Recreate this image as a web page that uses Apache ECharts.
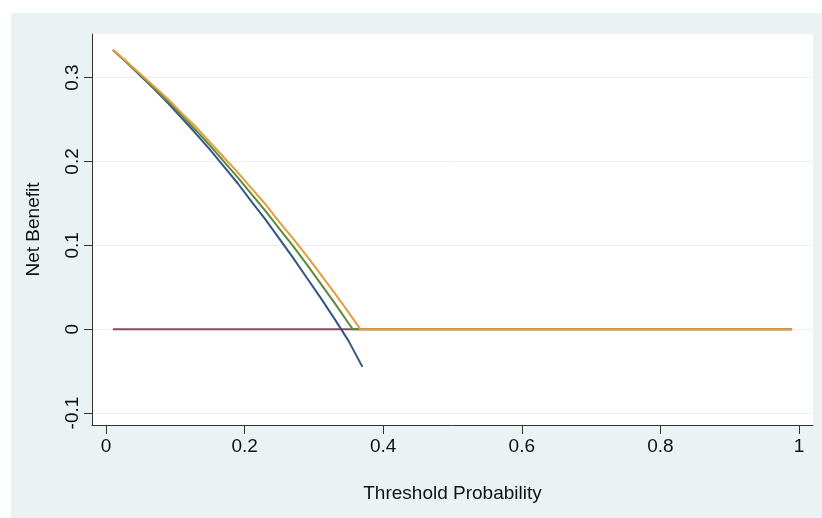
<!DOCTYPE html>
<html>
<head>
<meta charset="utf-8">
<script src="https://cdn.jsdelivr.net/npm/echarts@6/dist/echarts.min.js"></script>
<style>
html,body{margin:0;padding:0;background:#ffffff;}
#chart{width:822px;height:518px;}
</style>
</head>
<body>
<div id="chart"></div>
<script>
// ---- data ----
const xTicks = [0, 0.2, 0.4, 0.6, 0.8, 1];
const yTicks = [-0.1, 0, 0.1, 0.2, 0.3];

const blueX = [0.01,0.03,0.05,0.07,0.09,0.11,0.13,0.15,0.17,0.19,0.21,0.23,0.25,0.27,0.29,0.31,0.33,0.35,0.37];
const blueY = [0.333,0.318,0.302,0.286,0.269,0.251,0.233,0.214,0.194,0.174,0.152,0.131,0.108,0.085,0.061,0.037,0.012,-0.014,-0.045];

const greenX = [0.01,0.03,0.05,0.07,0.09,0.11,0.13,0.15,0.17,0.19,0.21,0.23,0.25,0.27,0.29,0.31,0.33,0.35,0.356,0.99];
const greenY = [0.333,0.318,0.303,0.287,0.271,0.254,0.237,0.219,0.200,0.181,0.161,0.141,0.120,0.099,0.077,0.054,0.031,0.007,0,0];

const orangeX = [0.01,0.03,0.05,0.07,0.09,0.11,0.13,0.15,0.17,0.19,0.21,0.23,0.25,0.27,0.29,0.31,0.33,0.35,0.367,0.99];
const orangeY = [0.333,0.319,0.304,0.289,0.274,0.257,0.241,0.223,0.205,0.187,0.168,0.149,0.128,0.108,0.087,0.065,0.043,0.020,0,0];

const redX = [0.01, 0.99];
const redY = [0, 0];

const zip = (xs, ys) => xs.map((x, i) => [x, ys[i]]);
const fmt = v => (Math.abs(v) < 1e-9 ? '0' : String(+v.toFixed(1)));
const FONT = 'Liberation Sans, Arial, Helvetica, sans-serif';

const chart = echarts.init(document.getElementById('chart'), null, {renderer: 'canvas'});
const lineStyleBase = {width: 2};

chart.setOption({
  animation: false,
  backgroundColor: '#ffffff',
  graphic: [{
    type: 'rect', z: -10, silent: true,
    shape: {x: 11, y: 13, width: 811, height: 505},
    style: {fill: '#EAF2F3'}
  }],
  grid: {
    left: 92, top: 34, right: 9, bottom: 93,
    show: true, backgroundColor: '#ffffff', borderWidth: 0
  },
  xAxis: {
    type: 'value', min: -0.0202, max: 1.0202,
    name: 'Threshold Probability', nameLocation: 'middle', nameGap: 59,
    nameTextStyle: {fontFamily: FONT, fontSize: 19, color: '#111'},
    axisLine: {show: true, onZero: false, lineStyle: {color: '#333', width: 1}},
    axisTick: {show: true, length: 9, customValues: xTicks, lineStyle: {color: '#333'}},
    axisLabel: {customValues: xTicks, formatter: fmt, margin: 12, fontFamily: FONT, fontSize: 19, color: '#111'},
    splitLine: {show: false}
  },
  yAxis: {
    type: 'value', min: -0.1143, max: 0.352,
    name: 'Net Benefit', nameLocation: 'middle', nameGap: 49,
    nameTextStyle: {fontFamily: FONT, fontSize: 19, color: '#111'},
    axisLine: {show: true, onZero: false, lineStyle: {color: '#333', width: 1}},
    axisTick: {show: true, length: 8, customValues: yTicks, lineStyle: {color: '#333'}},
    axisLabel: {customValues: yTicks, formatter: fmt, rotate: 90, margin: 10, fontFamily: FONT, fontSize: 19, color: '#111'},
    splitLine: {show: false}
  },
  series: [
    {
      name: 'none', type: 'line', showSymbol: false, data: zip(redX, redY),
      lineStyle: Object.assign({color: '#8e4a5a'}, lineStyleBase), itemStyle: {color: '#8e4a5a'},
      markLine: {
        silent: true, symbol: 'none', label: {show: false}, z: 0,
        lineStyle: {color: '#eceff0', width: 1, type: 'solid'},
        data: yTicks.map(v => ({yAxis: v}))
      }
    },
    {
      name: 'all', type: 'line', showSymbol: false, data: zip(blueX, blueY),
      lineStyle: Object.assign({color: '#34558a'}, lineStyleBase), itemStyle: {color: '#34558a'}
    },
    {
      name: 'model1', type: 'line', showSymbol: false, data: zip(greenX, greenY),
      lineStyle: Object.assign({color: '#5b8a3b'}, lineStyleBase), itemStyle: {color: '#5b8a3b'}
    },
    {
      name: 'model2', type: 'line', showSymbol: false, data: zip(orangeX, orangeY),
      lineStyle: Object.assign({color: '#e89c3a'}, lineStyleBase), itemStyle: {color: '#e89c3a'}
    }
  ]
});
</script>
</body>
</html>
